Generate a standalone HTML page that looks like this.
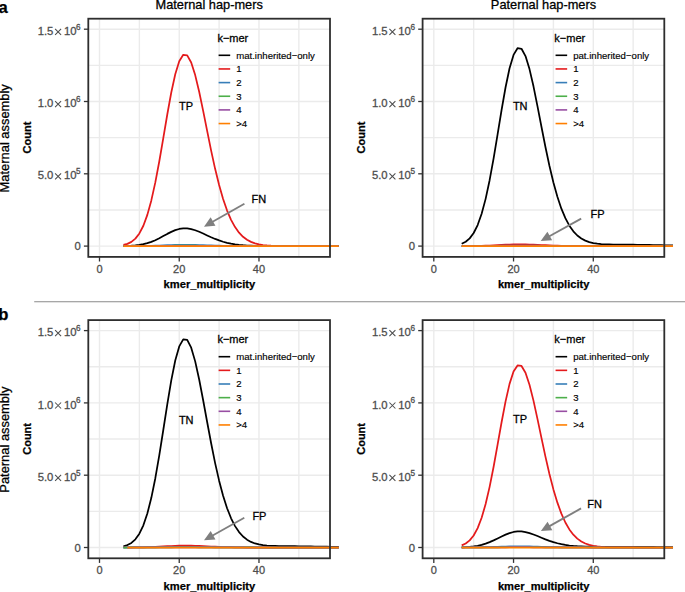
<!DOCTYPE html>
<html><head><meta charset="utf-8"><style>
html,body{margin:0;padding:0;background:#fff;}
body{width:685px;height:592px;overflow:hidden;font-family:"Liberation Sans",sans-serif;}
svg{display:block;}
</style></head><body>
<svg width="685" height="592" viewBox="0 0 685 592" font-family="'Liberation Sans', sans-serif">
<rect width="685" height="592" fill="#FFFFFF"/>
<line x1="99.50" y1="18.70" x2="99.50" y2="256.90" stroke="#EBEBEB" stroke-width="1.4"/>
<line x1="139.37" y1="18.70" x2="139.37" y2="256.90" stroke="#EBEBEB" stroke-width="1.4"/>
<line x1="179.24" y1="18.70" x2="179.24" y2="256.90" stroke="#EBEBEB" stroke-width="1.4"/>
<line x1="219.11" y1="18.70" x2="219.11" y2="256.90" stroke="#EBEBEB" stroke-width="1.4"/>
<line x1="258.98" y1="18.70" x2="258.98" y2="256.90" stroke="#EBEBEB" stroke-width="1.4"/>
<line x1="298.85" y1="18.70" x2="298.85" y2="256.90" stroke="#EBEBEB" stroke-width="1.4"/>
<line x1="88.30" y1="246.10" x2="330.00" y2="246.10" stroke="#EBEBEB" stroke-width="1.4"/>
<line x1="88.30" y1="209.95" x2="330.00" y2="209.95" stroke="#EBEBEB" stroke-width="1.4"/>
<line x1="88.30" y1="173.80" x2="330.00" y2="173.80" stroke="#EBEBEB" stroke-width="1.4"/>
<line x1="88.30" y1="137.65" x2="330.00" y2="137.65" stroke="#EBEBEB" stroke-width="1.4"/>
<line x1="88.30" y1="101.50" x2="330.00" y2="101.50" stroke="#EBEBEB" stroke-width="1.4"/>
<line x1="88.30" y1="65.35" x2="330.00" y2="65.35" stroke="#EBEBEB" stroke-width="1.4"/>
<line x1="88.30" y1="29.20" x2="330.00" y2="29.20" stroke="#EBEBEB" stroke-width="1.4"/>
<polyline points="123.42,245.99 127.41,245.89 131.40,245.71 135.38,245.41 139.37,244.93 143.36,244.21 147.34,243.20 151.33,241.87 155.32,240.20 159.31,238.23 163.29,236.09 167.28,233.90 171.27,231.87 175.25,230.17 179.24,228.97 183.23,228.37 187.21,228.42 191.20,229.08 195.19,230.25 199.18,231.80 203.16,233.57 207.15,235.43 211.14,237.25 215.12,238.94 219.11,240.44 223.10,241.73 227.08,242.80 231.07,243.66 235.06,244.34 239.05,244.85 243.03,245.24 247.02,245.51 251.01,245.71 254.99,245.85 258.98,245.94 262.97,246.00 266.95,246.04 270.94,246.06 274.93,246.08 278.91,246.09 282.90,246.09 286.89,246.10 290.88,246.10 294.86,246.10 298.85,246.10 302.84,246.10 306.82,246.10 310.81,246.10 314.80,246.10 318.78,246.10 322.77,246.10 326.76,246.10 330.75,246.10 334.73,246.10 338.72,246.10" fill="none" stroke="#000000" stroke-width="1.75" stroke-linejoin="round" stroke-linecap="butt"/>
<polyline points="123.42,244.95 127.41,243.84 131.40,241.89 135.38,238.62 139.37,233.45 143.36,225.73 147.34,214.86 151.33,200.43 155.32,182.40 159.31,161.24 163.29,138.07 167.28,114.50 171.27,92.53 175.25,74.19 179.24,61.24 183.23,54.83 187.21,55.37 191.20,62.47 195.19,75.09 199.18,91.78 203.16,110.92 207.15,130.95 211.14,150.58 215.12,168.82 219.11,185.06 223.10,198.98 227.08,210.53 231.07,219.82 235.06,227.10 239.05,232.65 243.03,236.77 247.02,239.76 251.01,241.88 254.99,243.35 258.98,244.34 262.97,245.00 266.95,245.43 270.94,245.70 274.93,245.86 278.91,245.96 282.90,246.02 286.89,246.06 290.88,246.08 294.86,246.09 298.85,246.09 302.84,246.10 306.82,246.10 310.81,246.10 314.80,246.10 318.78,246.10 322.77,246.10 326.76,246.10 330.75,246.10 334.73,246.10 338.72,246.10" fill="none" stroke="#E41A1C" stroke-width="1.75" stroke-linejoin="round" stroke-linecap="butt"/>
<polyline points="123.42,246.09 127.41,246.08 131.40,246.07 135.38,246.05 139.37,246.01 143.36,245.96 147.34,245.89 151.33,245.79 155.32,245.67 159.31,245.52 163.29,245.37 167.28,245.21 171.27,245.06 175.25,244.93 179.24,244.85 183.23,244.80 187.21,244.81 191.20,244.85 195.19,244.94 199.18,245.05 203.16,245.18 207.15,245.32 211.14,245.45 215.12,245.58 219.11,245.69 223.10,245.78 227.08,245.86 231.07,245.92 235.06,245.97 239.05,246.01 243.03,246.04 247.02,246.06 251.01,246.07 254.99,246.08 258.98,246.09 262.97,246.09 266.95,246.10 270.94,246.10 274.93,246.10 278.91,246.10 282.90,246.10 286.89,246.10 290.88,246.10 294.86,246.10 298.85,246.10 302.84,246.10 306.82,246.10 310.81,246.10 314.80,246.10 318.78,246.10 322.77,246.10 326.76,246.10 330.75,246.10 334.73,246.10 338.72,246.10" fill="none" stroke="#377EB8" stroke-width="1.75" stroke-linejoin="round" stroke-linecap="butt"/>
<polyline points="123.42,246.10 127.41,246.09 131.40,246.09 135.38,246.08 139.37,246.07 143.36,246.05 147.34,246.03 151.33,246.00 155.32,245.96 159.31,245.91 163.29,245.86 167.28,245.80 171.27,245.75 175.25,245.71 179.24,245.68 183.23,245.67 187.21,245.67 191.20,245.68 195.19,245.71 199.18,245.75 203.16,245.79 207.15,245.84 211.14,245.88 215.12,245.93 219.11,245.96 223.10,245.99 227.08,246.02 231.07,246.04 235.06,246.06 239.05,246.07 243.03,246.08 247.02,246.09 251.01,246.09 254.99,246.09 258.98,246.10 262.97,246.10 266.95,246.10 270.94,246.10 274.93,246.10 278.91,246.10 282.90,246.10 286.89,246.10 290.88,246.10 294.86,246.10 298.85,246.10 302.84,246.10 306.82,246.10 310.81,246.10 314.80,246.10 318.78,246.10 322.77,246.10 326.76,246.10 330.75,246.10 334.73,246.10 338.72,246.10" fill="none" stroke="#4DAF4A" stroke-width="1.75" stroke-linejoin="round" stroke-linecap="butt"/>
<polyline points="123.42,246.10 127.41,246.10 131.40,246.09 135.38,246.09 139.37,246.08 143.36,246.07 147.34,246.05 151.33,246.03 155.32,246.00 159.31,245.97 163.29,245.94 167.28,245.90 171.27,245.87 175.25,245.84 179.24,245.82 183.23,245.81 187.21,245.81 191.20,245.82 195.19,245.84 199.18,245.87 203.16,245.90 207.15,245.93 211.14,245.96 215.12,245.98 219.11,246.01 223.10,246.03 227.08,246.05 231.07,246.06 235.06,246.07 239.05,246.08 243.03,246.09 247.02,246.09 251.01,246.09 254.99,246.10 258.98,246.10 262.97,246.10 266.95,246.10 270.94,246.10 274.93,246.10 278.91,246.10 282.90,246.10 286.89,246.10 290.88,246.10 294.86,246.10 298.85,246.10 302.84,246.10 306.82,246.10 310.81,246.10 314.80,246.10 318.78,246.10 322.77,246.10 326.76,246.10 330.75,246.10 334.73,246.10 338.72,246.10" fill="none" stroke="#984EA3" stroke-width="1.75" stroke-linejoin="round" stroke-linecap="butt"/>
<polyline points="123.42,246.10 127.41,246.10 131.40,246.10 135.38,246.10 139.37,246.10 143.36,246.10 147.34,246.10 151.33,246.10 155.32,246.10 159.31,246.10 163.29,246.10 167.28,246.10 171.27,246.10 175.25,246.10 179.24,246.10 183.23,246.10 187.21,246.10 191.20,246.10 195.19,246.10 199.18,246.10 203.16,246.10 207.15,246.10 211.14,246.10 215.12,246.10 219.11,246.10 223.10,246.10 227.08,246.10 231.07,246.10 235.06,246.10 239.05,246.10 243.03,246.10 247.02,246.10 251.01,246.10 254.99,246.10 258.98,246.10 262.97,246.10 266.95,246.10 270.94,246.10 274.93,246.10 278.91,246.10 282.90,246.10 286.89,246.10 290.88,246.10 294.86,246.10 298.85,246.10 302.84,246.10 306.82,246.10 310.81,246.10 314.80,246.10 318.78,246.10 322.77,246.10 326.76,246.10 330.75,246.10 334.73,246.10 338.72,246.10" fill="none" stroke="#FF7F00" stroke-width="1.75" stroke-linejoin="round" stroke-linecap="butt"/>
<rect x="88.30" y="18.70" width="241.70" height="238.20" fill="none" stroke="#2E2E2E" stroke-width="1.8"/>
<text x="217.40" y="41.50" font-size="11" fill="#000" stroke="#000" stroke-width="0.28">k&#8722;mer</text>
<line x1="218.60" y1="55.30" x2="230.20" y2="55.30" stroke="#000000" stroke-width="1.6"/>
<text x="236.20" y="58.70" font-size="9.6" fill="#000" stroke="#000" stroke-width="0.15">mat.inherited&#8722;only</text>
<line x1="218.60" y1="68.95" x2="230.20" y2="68.95" stroke="#E41A1C" stroke-width="1.6"/>
<text x="236.20" y="72.35" font-size="9.6" fill="#000" stroke="#000" stroke-width="0.15">1</text>
<line x1="218.60" y1="82.60" x2="230.20" y2="82.60" stroke="#377EB8" stroke-width="1.6"/>
<text x="236.20" y="86.00" font-size="9.6" fill="#000" stroke="#000" stroke-width="0.15">2</text>
<line x1="218.60" y1="96.25" x2="230.20" y2="96.25" stroke="#4DAF4A" stroke-width="1.6"/>
<text x="236.20" y="99.65" font-size="9.6" fill="#000" stroke="#000" stroke-width="0.15">3</text>
<line x1="218.60" y1="109.90" x2="230.20" y2="109.90" stroke="#984EA3" stroke-width="1.6"/>
<text x="236.20" y="113.30" font-size="9.6" fill="#000" stroke="#000" stroke-width="0.15">4</text>
<line x1="218.60" y1="123.55" x2="230.20" y2="123.55" stroke="#FF7F00" stroke-width="1.6"/>
<text x="236.20" y="126.95" font-size="9.6" fill="#000" stroke="#000" stroke-width="0.15">&gt;4</text>
<text x="179.05" y="109.80" font-size="11" fill="#000" stroke="#000" stroke-width="0.28">TP</text>
<text x="251.60" y="203.30" font-size="11" fill="#000" stroke="#000" stroke-width="0.28">FN</text>
<line x1="244.40" y1="203.80" x2="212.18" y2="222.06" stroke="#7F7F7F" stroke-width="1.85"/>
<polygon points="204.00,226.70 210.63,217.31 215.46,225.83" fill="#7F7F7F"/>
<line x1="83.90" y1="246.10" x2="88.30" y2="246.10" stroke="#333333" stroke-width="1.3"/>
<line x1="83.90" y1="173.80" x2="88.30" y2="173.80" stroke="#333333" stroke-width="1.3"/>
<line x1="83.90" y1="101.50" x2="88.30" y2="101.50" stroke="#333333" stroke-width="1.3"/>
<line x1="83.90" y1="29.20" x2="88.30" y2="29.20" stroke="#333333" stroke-width="1.3"/>
<line x1="99.50" y1="256.90" x2="99.50" y2="261.50" stroke="#333333" stroke-width="1.3"/>
<line x1="179.24" y1="256.90" x2="179.24" y2="261.50" stroke="#333333" stroke-width="1.3"/>
<line x1="258.98" y1="256.90" x2="258.98" y2="261.50" stroke="#333333" stroke-width="1.3"/>
<text x="99.50" y="273.00" font-size="11" fill="#4D4D4D" text-anchor="middle" stroke="#4D4D4D" stroke-width="0.28">0</text>
<text x="179.24" y="273.00" font-size="11" fill="#4D4D4D" text-anchor="middle" stroke="#4D4D4D" stroke-width="0.28">20</text>
<text x="258.98" y="273.00" font-size="11" fill="#4D4D4D" text-anchor="middle" stroke="#4D4D4D" stroke-width="0.28">40</text>
<text x="80.70" y="250.10" font-size="11.3" fill="#4D4D4D" text-anchor="end" stroke="#4D4D4D" stroke-width="0.28">0</text>
<text x="80.65" y="174.20" font-size="8.2" fill="#4D4D4D" text-anchor="end" stroke="#4D4D4D" stroke-width="0.28">5</text>
<text x="76.55" y="179.40" font-size="11.3" fill="#4D4D4D" text-anchor="end" stroke="#4D4D4D" stroke-width="0.28">10</text>
<path d="M55.10,173.40L61.10,179.40M61.10,173.40L55.10,179.40" stroke="#4D4D4D" stroke-width="1.05"/>
<text x="53.35" y="179.40" font-size="11.3" fill="#4D4D4D" text-anchor="end" stroke="#4D4D4D" stroke-width="0.28">5.0</text>
<text x="80.65" y="101.90" font-size="8.2" fill="#4D4D4D" text-anchor="end" stroke="#4D4D4D" stroke-width="0.28">6</text>
<text x="76.55" y="107.10" font-size="11.3" fill="#4D4D4D" text-anchor="end" stroke="#4D4D4D" stroke-width="0.28">10</text>
<path d="M55.10,101.10L61.10,107.10M61.10,101.10L55.10,107.10" stroke="#4D4D4D" stroke-width="1.05"/>
<text x="53.35" y="107.10" font-size="11.3" fill="#4D4D4D" text-anchor="end" stroke="#4D4D4D" stroke-width="0.28">1.0</text>
<text x="80.65" y="29.60" font-size="8.2" fill="#4D4D4D" text-anchor="end" stroke="#4D4D4D" stroke-width="0.28">6</text>
<text x="76.55" y="34.80" font-size="11.3" fill="#4D4D4D" text-anchor="end" stroke="#4D4D4D" stroke-width="0.28">10</text>
<path d="M55.10,28.80L61.10,34.80M61.10,28.80L55.10,34.80" stroke="#4D4D4D" stroke-width="1.05"/>
<text x="53.35" y="34.80" font-size="11.3" fill="#4D4D4D" text-anchor="end" stroke="#4D4D4D" stroke-width="0.28">1.5</text>
<text x="209.40" y="288.30" font-size="11.15" font-weight="bold" text-anchor="middle" fill="#000" stroke="#000" stroke-width="0.25">kmer_multiplicity</text>
<text transform="translate(30.60,137.50) rotate(-90)" font-size="11" font-weight="bold" text-anchor="middle" fill="#000" stroke="#000" stroke-width="0.25">Count</text>
<text x="209.20" y="8.90" font-size="12.8" text-anchor="middle" fill="#000" stroke="#000" stroke-width="0.28">Maternal hap-mers</text>
<line x1="433.80" y1="18.70" x2="433.80" y2="256.90" stroke="#EBEBEB" stroke-width="1.4"/>
<line x1="473.67" y1="18.70" x2="473.67" y2="256.90" stroke="#EBEBEB" stroke-width="1.4"/>
<line x1="513.54" y1="18.70" x2="513.54" y2="256.90" stroke="#EBEBEB" stroke-width="1.4"/>
<line x1="553.41" y1="18.70" x2="553.41" y2="256.90" stroke="#EBEBEB" stroke-width="1.4"/>
<line x1="593.28" y1="18.70" x2="593.28" y2="256.90" stroke="#EBEBEB" stroke-width="1.4"/>
<line x1="633.15" y1="18.70" x2="633.15" y2="256.90" stroke="#EBEBEB" stroke-width="1.4"/>
<line x1="422.60" y1="246.10" x2="664.30" y2="246.10" stroke="#EBEBEB" stroke-width="1.4"/>
<line x1="422.60" y1="209.95" x2="664.30" y2="209.95" stroke="#EBEBEB" stroke-width="1.4"/>
<line x1="422.60" y1="173.80" x2="664.30" y2="173.80" stroke="#EBEBEB" stroke-width="1.4"/>
<line x1="422.60" y1="137.65" x2="664.30" y2="137.65" stroke="#EBEBEB" stroke-width="1.4"/>
<line x1="422.60" y1="101.50" x2="664.30" y2="101.50" stroke="#EBEBEB" stroke-width="1.4"/>
<line x1="422.60" y1="65.35" x2="664.30" y2="65.35" stroke="#EBEBEB" stroke-width="1.4"/>
<line x1="422.60" y1="29.20" x2="664.30" y2="29.20" stroke="#EBEBEB" stroke-width="1.4"/>
<polyline points="461.71,243.76 465.70,241.74 469.68,238.36 473.67,233.01 477.66,225.03 481.64,213.79 485.63,198.87 489.62,180.21 493.61,158.34 497.59,134.37 501.58,109.99 505.57,87.26 509.55,68.29 513.54,54.88 517.53,48.24 521.51,48.77 525.50,56.08 529.49,69.10 533.48,86.31 537.46,106.06 541.45,126.72 545.44,146.96 549.42,165.76 553.41,182.49 557.40,196.81 561.38,208.68 565.37,218.21 569.36,225.66 573.35,231.31 577.33,235.50 581.32,238.51 585.31,240.63 589.29,242.08 593.28,243.04 597.27,243.66 601.25,244.05 605.24,244.29 609.23,244.43 613.22,244.52 617.20,244.57 621.19,244.62 625.18,244.65 629.16,244.69 633.15,244.74 637.14,244.79 641.12,244.85 645.11,244.92 649.10,244.99 653.09,245.07 657.07,245.14 661.06,245.22 665.05,245.30 669.03,245.38 673.02,245.46" fill="none" stroke="#000000" stroke-width="1.75" stroke-linejoin="round" stroke-linecap="butt"/>
<polyline points="461.71,246.08 465.70,246.06 469.68,246.03 473.67,245.99 477.66,245.92 481.64,245.82 485.63,245.69 489.62,245.52 493.61,245.33 497.59,245.12 501.58,244.91 505.57,244.71 509.55,244.55 513.54,244.43 517.53,244.37 521.51,244.38 525.50,244.44 529.49,244.55 533.48,244.70 537.46,244.88 541.45,245.06 545.44,245.24 549.42,245.40 553.41,245.55 557.40,245.67 561.38,245.78 565.37,245.86 569.36,245.93 573.35,245.98 577.33,246.02 581.32,246.04 585.31,246.06 589.29,246.08 593.28,246.08 597.27,246.09 601.25,246.09 605.24,246.10 609.23,246.10 613.22,246.10 617.20,246.10 621.19,246.10 625.18,246.10 629.16,246.10 633.15,246.10 637.14,246.10 641.12,246.10 645.11,246.10 649.10,246.10 653.09,246.10 657.07,246.10 661.06,246.10 665.05,246.10 669.03,246.10 673.02,246.10" fill="none" stroke="#E41A1C" stroke-width="1.75" stroke-linejoin="round" stroke-linecap="butt"/>
<polyline points="461.71,246.09 465.70,246.09 469.68,246.08 473.67,246.06 477.66,246.04 481.64,246.01 485.63,245.96 489.62,245.91 493.61,245.84 497.59,245.77 501.58,245.70 505.57,245.64 509.55,245.58 513.54,245.54 517.53,245.52 521.51,245.53 525.50,245.55 529.49,245.58 533.48,245.63 537.46,245.69 541.45,245.75 545.44,245.81 549.42,245.87 553.41,245.92 557.40,245.96 561.38,245.99 565.37,246.02 569.36,246.04 573.35,246.06 577.33,246.07 581.32,246.08 585.31,246.09 589.29,246.09 593.28,246.09 597.27,246.10 601.25,246.10 605.24,246.10 609.23,246.10 613.22,246.10 617.20,246.10 621.19,246.10 625.18,246.10 629.16,246.10 633.15,246.10 637.14,246.10 641.12,246.10 645.11,246.10 649.10,246.10 653.09,246.10 657.07,246.10 661.06,246.10 665.05,246.10 669.03,246.10 673.02,246.10" fill="none" stroke="#377EB8" stroke-width="1.75" stroke-linejoin="round" stroke-linecap="butt"/>
<polyline points="461.71,246.10 465.70,246.09 469.68,246.09 473.67,246.08 477.66,246.07 481.64,246.05 485.63,246.03 489.62,246.00 493.61,245.97 497.59,245.94 501.58,245.90 505.57,245.87 509.55,245.84 513.54,245.82 517.53,245.81 521.51,245.81 525.50,245.82 529.49,245.84 533.48,245.87 537.46,245.90 541.45,245.93 545.44,245.96 549.42,245.98 553.41,246.01 557.40,246.03 561.38,246.05 565.37,246.06 569.36,246.07 573.35,246.08 577.33,246.09 581.32,246.09 585.31,246.09 589.29,246.10 593.28,246.10 597.27,246.10 601.25,246.10 605.24,246.10 609.23,246.10 613.22,246.10 617.20,246.10 621.19,246.10 625.18,246.10 629.16,246.10 633.15,246.10 637.14,246.10 641.12,246.10 645.11,246.10 649.10,246.10 653.09,246.10 657.07,246.10 661.06,246.10 665.05,246.10 669.03,246.10 673.02,246.10" fill="none" stroke="#4DAF4A" stroke-width="1.75" stroke-linejoin="round" stroke-linecap="butt"/>
<polyline points="461.71,246.10 465.70,246.10 469.68,246.09 473.67,246.09 477.66,246.08 481.64,246.08 485.63,246.07 489.62,246.05 493.61,246.04 497.59,246.02 501.58,246.00 505.57,245.98 509.55,245.97 513.54,245.96 517.53,245.96 521.51,245.96 525.50,245.96 529.49,245.97 533.48,245.98 537.46,246.00 541.45,246.01 545.44,246.03 549.42,246.04 553.41,246.05 557.40,246.06 561.38,246.07 565.37,246.08 569.36,246.09 573.35,246.09 577.33,246.09 581.32,246.10 585.31,246.10 589.29,246.10 593.28,246.10 597.27,246.10 601.25,246.10 605.24,246.10 609.23,246.10 613.22,246.10 617.20,246.10 621.19,246.10 625.18,246.10 629.16,246.10 633.15,246.10 637.14,246.10 641.12,246.10 645.11,246.10 649.10,246.10 653.09,246.10 657.07,246.10 661.06,246.10 665.05,246.10 669.03,246.10 673.02,246.10" fill="none" stroke="#984EA3" stroke-width="1.75" stroke-linejoin="round" stroke-linecap="butt"/>
<polyline points="461.71,246.10 465.70,246.10 469.68,246.10 473.67,246.10 477.66,246.10 481.64,246.10 485.63,246.10 489.62,246.10 493.61,246.10 497.59,246.10 501.58,246.10 505.57,246.10 509.55,246.10 513.54,246.10 517.53,246.10 521.51,246.10 525.50,246.10 529.49,246.10 533.48,246.10 537.46,246.10 541.45,246.10 545.44,246.10 549.42,246.10 553.41,246.10 557.40,246.10 561.38,246.10 565.37,246.10 569.36,246.10 573.35,246.10 577.33,246.10 581.32,246.10 585.31,246.10 589.29,246.10 593.28,246.10 597.27,246.10 601.25,246.10 605.24,246.10 609.23,246.10 613.22,246.10 617.20,246.10 621.19,246.10 625.18,246.10 629.16,246.10 633.15,246.10 637.14,246.10 641.12,246.10 645.11,246.10 649.10,246.10 653.09,246.10 657.07,246.10 661.06,246.10 665.05,246.10 669.03,246.10 673.02,246.10" fill="none" stroke="#FF7F00" stroke-width="1.75" stroke-linejoin="round" stroke-linecap="butt"/>
<rect x="422.60" y="18.70" width="241.70" height="238.20" fill="none" stroke="#2E2E2E" stroke-width="1.8"/>
<text x="554.36" y="41.50" font-size="11" fill="#000" stroke="#000" stroke-width="0.28">k&#8722;mer</text>
<line x1="555.56" y1="55.30" x2="567.16" y2="55.30" stroke="#000000" stroke-width="1.6"/>
<text x="573.16" y="58.70" font-size="9.6" fill="#000" stroke="#000" stroke-width="0.15">pat.inherited&#8722;only</text>
<line x1="555.56" y1="68.95" x2="567.16" y2="68.95" stroke="#E41A1C" stroke-width="1.6"/>
<text x="573.16" y="72.35" font-size="9.6" fill="#000" stroke="#000" stroke-width="0.15">1</text>
<line x1="555.56" y1="82.60" x2="567.16" y2="82.60" stroke="#377EB8" stroke-width="1.6"/>
<text x="573.16" y="86.00" font-size="9.6" fill="#000" stroke="#000" stroke-width="0.15">2</text>
<line x1="555.56" y1="96.25" x2="567.16" y2="96.25" stroke="#4DAF4A" stroke-width="1.6"/>
<text x="573.16" y="99.65" font-size="9.6" fill="#000" stroke="#000" stroke-width="0.15">3</text>
<line x1="555.56" y1="109.90" x2="567.16" y2="109.90" stroke="#984EA3" stroke-width="1.6"/>
<text x="573.16" y="113.30" font-size="9.6" fill="#000" stroke="#000" stroke-width="0.15">4</text>
<line x1="555.56" y1="123.55" x2="567.16" y2="123.55" stroke="#FF7F00" stroke-width="1.6"/>
<text x="573.16" y="126.95" font-size="9.6" fill="#000" stroke="#000" stroke-width="0.15">&gt;4</text>
<text x="512.90" y="109.80" font-size="11" fill="#000" stroke="#000" stroke-width="0.28">TN</text>
<text x="590.60" y="217.60" font-size="11" fill="#000" stroke="#000" stroke-width="0.28">FP</text>
<line x1="581.20" y1="218.60" x2="548.92" y2="236.53" stroke="#7F7F7F" stroke-width="1.85"/>
<polygon points="540.70,241.10 547.41,231.77 552.17,240.33" fill="#7F7F7F"/>
<line x1="418.20" y1="246.10" x2="422.60" y2="246.10" stroke="#333333" stroke-width="1.3"/>
<line x1="418.20" y1="173.80" x2="422.60" y2="173.80" stroke="#333333" stroke-width="1.3"/>
<line x1="418.20" y1="101.50" x2="422.60" y2="101.50" stroke="#333333" stroke-width="1.3"/>
<line x1="418.20" y1="29.20" x2="422.60" y2="29.20" stroke="#333333" stroke-width="1.3"/>
<line x1="433.80" y1="256.90" x2="433.80" y2="261.50" stroke="#333333" stroke-width="1.3"/>
<line x1="513.54" y1="256.90" x2="513.54" y2="261.50" stroke="#333333" stroke-width="1.3"/>
<line x1="593.28" y1="256.90" x2="593.28" y2="261.50" stroke="#333333" stroke-width="1.3"/>
<text x="433.80" y="273.00" font-size="11" fill="#4D4D4D" text-anchor="middle" stroke="#4D4D4D" stroke-width="0.28">0</text>
<text x="513.54" y="273.00" font-size="11" fill="#4D4D4D" text-anchor="middle" stroke="#4D4D4D" stroke-width="0.28">20</text>
<text x="593.28" y="273.00" font-size="11" fill="#4D4D4D" text-anchor="middle" stroke="#4D4D4D" stroke-width="0.28">40</text>
<text x="415.00" y="250.10" font-size="11.3" fill="#4D4D4D" text-anchor="end" stroke="#4D4D4D" stroke-width="0.28">0</text>
<text x="414.95" y="174.20" font-size="8.2" fill="#4D4D4D" text-anchor="end" stroke="#4D4D4D" stroke-width="0.28">5</text>
<text x="410.85" y="179.40" font-size="11.3" fill="#4D4D4D" text-anchor="end" stroke="#4D4D4D" stroke-width="0.28">10</text>
<path d="M389.40,173.40L395.40,179.40M395.40,173.40L389.40,179.40" stroke="#4D4D4D" stroke-width="1.05"/>
<text x="387.65" y="179.40" font-size="11.3" fill="#4D4D4D" text-anchor="end" stroke="#4D4D4D" stroke-width="0.28">5.0</text>
<text x="414.95" y="101.90" font-size="8.2" fill="#4D4D4D" text-anchor="end" stroke="#4D4D4D" stroke-width="0.28">6</text>
<text x="410.85" y="107.10" font-size="11.3" fill="#4D4D4D" text-anchor="end" stroke="#4D4D4D" stroke-width="0.28">10</text>
<path d="M389.40,101.10L395.40,107.10M395.40,101.10L389.40,107.10" stroke="#4D4D4D" stroke-width="1.05"/>
<text x="387.65" y="107.10" font-size="11.3" fill="#4D4D4D" text-anchor="end" stroke="#4D4D4D" stroke-width="0.28">1.0</text>
<text x="414.95" y="29.60" font-size="8.2" fill="#4D4D4D" text-anchor="end" stroke="#4D4D4D" stroke-width="0.28">6</text>
<text x="410.85" y="34.80" font-size="11.3" fill="#4D4D4D" text-anchor="end" stroke="#4D4D4D" stroke-width="0.28">10</text>
<path d="M389.40,28.80L395.40,34.80M395.40,28.80L389.40,34.80" stroke="#4D4D4D" stroke-width="1.05"/>
<text x="387.65" y="34.80" font-size="11.3" fill="#4D4D4D" text-anchor="end" stroke="#4D4D4D" stroke-width="0.28">1.5</text>
<text x="543.70" y="288.30" font-size="11.15" font-weight="bold" text-anchor="middle" fill="#000" stroke="#000" stroke-width="0.25">kmer_multiplicity</text>
<text transform="translate(364.90,137.50) rotate(-90)" font-size="11" font-weight="bold" text-anchor="middle" fill="#000" stroke="#000" stroke-width="0.25">Count</text>
<text x="543.50" y="8.90" font-size="12.8" text-anchor="middle" fill="#000" stroke="#000" stroke-width="0.28">Paternal hap-mers</text>
<line x1="99.50" y1="320.10" x2="99.50" y2="558.30" stroke="#EBEBEB" stroke-width="1.4"/>
<line x1="139.37" y1="320.10" x2="139.37" y2="558.30" stroke="#EBEBEB" stroke-width="1.4"/>
<line x1="179.24" y1="320.10" x2="179.24" y2="558.30" stroke="#EBEBEB" stroke-width="1.4"/>
<line x1="219.11" y1="320.10" x2="219.11" y2="558.30" stroke="#EBEBEB" stroke-width="1.4"/>
<line x1="258.98" y1="320.10" x2="258.98" y2="558.30" stroke="#EBEBEB" stroke-width="1.4"/>
<line x1="298.85" y1="320.10" x2="298.85" y2="558.30" stroke="#EBEBEB" stroke-width="1.4"/>
<line x1="88.30" y1="547.50" x2="330.00" y2="547.50" stroke="#EBEBEB" stroke-width="1.4"/>
<line x1="88.30" y1="511.35" x2="330.00" y2="511.35" stroke="#EBEBEB" stroke-width="1.4"/>
<line x1="88.30" y1="475.20" x2="330.00" y2="475.20" stroke="#EBEBEB" stroke-width="1.4"/>
<line x1="88.30" y1="439.05" x2="330.00" y2="439.05" stroke="#EBEBEB" stroke-width="1.4"/>
<line x1="88.30" y1="402.90" x2="330.00" y2="402.90" stroke="#EBEBEB" stroke-width="1.4"/>
<line x1="88.30" y1="366.75" x2="330.00" y2="366.75" stroke="#EBEBEB" stroke-width="1.4"/>
<line x1="88.30" y1="330.60" x2="330.00" y2="330.60" stroke="#EBEBEB" stroke-width="1.4"/>
<polyline points="123.42,546.25 127.41,545.04 131.40,542.92 135.38,539.36 139.37,533.74 143.36,525.34 147.34,513.52 151.33,497.82 155.32,478.21 159.31,455.20 163.29,429.99 167.28,404.36 171.27,380.45 175.25,360.50 179.24,346.40 183.23,339.41 187.21,339.97 191.20,347.67 195.19,361.37 199.18,379.48 203.16,400.25 207.15,421.99 211.14,443.28 215.12,463.07 219.11,480.67 223.10,495.75 227.08,508.24 231.07,518.28 235.06,526.12 239.05,532.08 243.03,536.49 247.02,539.68 251.01,541.92 254.99,543.45 258.98,544.47 262.97,545.13 266.95,545.55 270.94,545.81 274.93,545.96 278.91,546.06 282.90,546.11 286.89,546.16 290.88,546.19 294.86,546.23 298.85,546.27 302.84,546.32 306.82,546.38 310.81,546.44 314.80,546.50 318.78,546.57 322.77,546.64 326.76,546.71 330.75,546.78 334.73,546.85 338.72,546.92" fill="none" stroke="#000000" stroke-width="1.75" stroke-linejoin="round" stroke-linecap="butt"/>
<polyline points="123.42,547.49 127.41,547.48 131.40,547.46 135.38,547.43 139.37,547.38 143.36,547.30 147.34,547.19 151.33,547.05 155.32,546.88 159.31,546.67 163.29,546.44 167.28,546.21 171.27,546.00 175.25,545.82 179.24,545.69 183.23,545.63 187.21,545.63 191.20,545.70 195.19,545.82 199.18,545.99 203.16,546.18 207.15,546.37 211.14,546.56 215.12,546.74 219.11,546.90 223.10,547.04 227.08,547.15 231.07,547.24 235.06,547.31 239.05,547.37 243.03,547.41 247.02,547.44 251.01,547.46 254.99,547.47 258.98,547.48 262.97,547.49 266.95,547.49 270.94,547.50 274.93,547.50 278.91,547.50 282.90,547.50 286.89,547.50 290.88,547.50 294.86,547.50 298.85,547.50 302.84,547.50 306.82,547.50 310.81,547.50 314.80,547.50 318.78,547.50 322.77,547.50 326.76,547.50 330.75,547.50 334.73,547.50 338.72,547.50" fill="none" stroke="#E41A1C" stroke-width="1.75" stroke-linejoin="round" stroke-linecap="butt"/>
<polyline points="123.42,547.50 127.41,547.49 131.40,547.49 135.38,547.48 139.37,547.46 143.36,547.44 147.34,547.41 151.33,547.36 155.32,547.31 159.31,547.24 163.29,547.17 167.28,547.10 171.27,547.04 175.25,546.98 179.24,546.94 183.23,546.92 187.21,546.93 191.20,546.95 195.19,546.98 199.18,547.03 203.16,547.09 207.15,547.15 211.14,547.21 215.12,547.27 219.11,547.32 223.10,547.36 227.08,547.39 231.07,547.42 235.06,547.44 239.05,547.46 243.03,547.47 247.02,547.48 251.01,547.49 254.99,547.49 258.98,547.49 262.97,547.50 266.95,547.50 270.94,547.50 274.93,547.50 278.91,547.50 282.90,547.50 286.89,547.50 290.88,547.50 294.86,547.50 298.85,547.50 302.84,547.50 306.82,547.50 310.81,547.50 314.80,547.50 318.78,547.50 322.77,547.50 326.76,547.50 330.75,547.50 334.73,547.50 338.72,547.50" fill="none" stroke="#377EB8" stroke-width="1.75" stroke-linejoin="round" stroke-linecap="butt"/>
<polyline points="123.42,547.50 127.41,547.50 131.40,547.49 135.38,547.49 139.37,547.48 143.36,547.47 147.34,547.45 151.33,547.43 155.32,547.40 159.31,547.37 163.29,547.34 167.28,547.30 171.27,547.27 175.25,547.24 179.24,547.22 183.23,547.21 187.21,547.21 191.20,547.22 195.19,547.24 199.18,547.27 203.16,547.30 207.15,547.33 211.14,547.36 215.12,547.38 219.11,547.41 223.10,547.43 227.08,547.45 231.07,547.46 235.06,547.47 239.05,547.48 243.03,547.49 247.02,547.49 251.01,547.49 254.99,547.50 258.98,547.50 262.97,547.50 266.95,547.50 270.94,547.50 274.93,547.50 278.91,547.50 282.90,547.50 286.89,547.50 290.88,547.50 294.86,547.50 298.85,547.50 302.84,547.50 306.82,547.50 310.81,547.50 314.80,547.50 318.78,547.50 322.77,547.50 326.76,547.50 330.75,547.50 334.73,547.50 338.72,547.50" fill="none" stroke="#4DAF4A" stroke-width="1.75" stroke-linejoin="round" stroke-linecap="butt"/>
<polyline points="127.41,547.50 131.40,547.50 135.38,547.49 139.37,547.49 143.36,547.48 147.34,547.48 151.33,547.47 155.32,547.45 159.31,547.44 163.29,547.42 167.28,547.40 171.27,547.38 175.25,547.37 179.24,547.36 183.23,547.36 187.21,547.36 191.20,547.36 195.19,547.37 199.18,547.38 203.16,547.40 207.15,547.41 211.14,547.43 215.12,547.44 219.11,547.45 223.10,547.46 227.08,547.47 231.07,547.48 235.06,547.49 239.05,547.49 243.03,547.49 247.02,547.50 251.01,547.50 254.99,547.50 258.98,547.50 262.97,547.50 266.95,547.50 270.94,547.50 274.93,547.50 278.91,547.50 282.90,547.50 286.89,547.50 290.88,547.50 294.86,547.50 298.85,547.50 302.84,547.50 306.82,547.50 310.81,547.50 314.80,547.50 318.78,547.50 322.77,547.50 326.76,547.50 330.75,547.50 334.73,547.50 338.72,547.50" fill="none" stroke="#984EA3" stroke-width="1.75" stroke-linejoin="round" stroke-linecap="butt"/>
<polyline points="127.41,547.50 131.40,547.50 135.38,547.50 139.37,547.50 143.36,547.50 147.34,547.50 151.33,547.50 155.32,547.50 159.31,547.50 163.29,547.50 167.28,547.50 171.27,547.50 175.25,547.50 179.24,547.50 183.23,547.50 187.21,547.50 191.20,547.50 195.19,547.50 199.18,547.50 203.16,547.50 207.15,547.50 211.14,547.50 215.12,547.50 219.11,547.50 223.10,547.50 227.08,547.50 231.07,547.50 235.06,547.50 239.05,547.50 243.03,547.50 247.02,547.50 251.01,547.50 254.99,547.50 258.98,547.50 262.97,547.50 266.95,547.50 270.94,547.50 274.93,547.50 278.91,547.50 282.90,547.50 286.89,547.50 290.88,547.50 294.86,547.50 298.85,547.50 302.84,547.50 306.82,547.50 310.81,547.50 314.80,547.50 318.78,547.50 322.77,547.50 326.76,547.50 330.75,547.50 334.73,547.50 338.72,547.50" fill="none" stroke="#FF7F00" stroke-width="1.75" stroke-linejoin="round" stroke-linecap="butt"/>
<rect x="88.30" y="320.10" width="241.70" height="238.20" fill="none" stroke="#2E2E2E" stroke-width="1.8"/>
<text x="217.40" y="342.90" font-size="11" fill="#000" stroke="#000" stroke-width="0.28">k&#8722;mer</text>
<line x1="218.60" y1="356.70" x2="230.20" y2="356.70" stroke="#000000" stroke-width="1.6"/>
<text x="236.20" y="360.10" font-size="9.6" fill="#000" stroke="#000" stroke-width="0.15">mat.inherited&#8722;only</text>
<line x1="218.60" y1="370.35" x2="230.20" y2="370.35" stroke="#E41A1C" stroke-width="1.6"/>
<text x="236.20" y="373.75" font-size="9.6" fill="#000" stroke="#000" stroke-width="0.15">1</text>
<line x1="218.60" y1="384.00" x2="230.20" y2="384.00" stroke="#377EB8" stroke-width="1.6"/>
<text x="236.20" y="387.40" font-size="9.6" fill="#000" stroke="#000" stroke-width="0.15">2</text>
<line x1="218.60" y1="397.65" x2="230.20" y2="397.65" stroke="#4DAF4A" stroke-width="1.6"/>
<text x="236.20" y="401.05" font-size="9.6" fill="#000" stroke="#000" stroke-width="0.15">3</text>
<line x1="218.60" y1="411.30" x2="230.20" y2="411.30" stroke="#984EA3" stroke-width="1.6"/>
<text x="236.20" y="414.70" font-size="9.6" fill="#000" stroke="#000" stroke-width="0.15">4</text>
<line x1="218.60" y1="424.95" x2="230.20" y2="424.95" stroke="#FF7F00" stroke-width="1.6"/>
<text x="236.20" y="428.35" font-size="9.6" fill="#000" stroke="#000" stroke-width="0.15">&gt;4</text>
<text x="178.90" y="423.80" font-size="11" fill="#000" stroke="#000" stroke-width="0.28">TN</text>
<text x="252.40" y="519.70" font-size="11" fill="#000" stroke="#000" stroke-width="0.28">FP</text>
<line x1="244.30" y1="517.80" x2="212.21" y2="535.72" stroke="#7F7F7F" stroke-width="1.85"/>
<polygon points="204.00,540.30 210.69,530.95 215.47,539.51" fill="#7F7F7F"/>
<line x1="83.90" y1="547.50" x2="88.30" y2="547.50" stroke="#333333" stroke-width="1.3"/>
<line x1="83.90" y1="475.20" x2="88.30" y2="475.20" stroke="#333333" stroke-width="1.3"/>
<line x1="83.90" y1="402.90" x2="88.30" y2="402.90" stroke="#333333" stroke-width="1.3"/>
<line x1="83.90" y1="330.60" x2="88.30" y2="330.60" stroke="#333333" stroke-width="1.3"/>
<line x1="99.50" y1="558.30" x2="99.50" y2="562.90" stroke="#333333" stroke-width="1.3"/>
<line x1="179.24" y1="558.30" x2="179.24" y2="562.90" stroke="#333333" stroke-width="1.3"/>
<line x1="258.98" y1="558.30" x2="258.98" y2="562.90" stroke="#333333" stroke-width="1.3"/>
<text x="99.50" y="574.40" font-size="11" fill="#4D4D4D" text-anchor="middle" stroke="#4D4D4D" stroke-width="0.28">0</text>
<text x="179.24" y="574.40" font-size="11" fill="#4D4D4D" text-anchor="middle" stroke="#4D4D4D" stroke-width="0.28">20</text>
<text x="258.98" y="574.40" font-size="11" fill="#4D4D4D" text-anchor="middle" stroke="#4D4D4D" stroke-width="0.28">40</text>
<text x="80.70" y="551.50" font-size="11.3" fill="#4D4D4D" text-anchor="end" stroke="#4D4D4D" stroke-width="0.28">0</text>
<text x="80.65" y="475.60" font-size="8.2" fill="#4D4D4D" text-anchor="end" stroke="#4D4D4D" stroke-width="0.28">5</text>
<text x="76.55" y="480.80" font-size="11.3" fill="#4D4D4D" text-anchor="end" stroke="#4D4D4D" stroke-width="0.28">10</text>
<path d="M55.10,474.80L61.10,480.80M61.10,474.80L55.10,480.80" stroke="#4D4D4D" stroke-width="1.05"/>
<text x="53.35" y="480.80" font-size="11.3" fill="#4D4D4D" text-anchor="end" stroke="#4D4D4D" stroke-width="0.28">5.0</text>
<text x="80.65" y="403.30" font-size="8.2" fill="#4D4D4D" text-anchor="end" stroke="#4D4D4D" stroke-width="0.28">6</text>
<text x="76.55" y="408.50" font-size="11.3" fill="#4D4D4D" text-anchor="end" stroke="#4D4D4D" stroke-width="0.28">10</text>
<path d="M55.10,402.50L61.10,408.50M61.10,402.50L55.10,408.50" stroke="#4D4D4D" stroke-width="1.05"/>
<text x="53.35" y="408.50" font-size="11.3" fill="#4D4D4D" text-anchor="end" stroke="#4D4D4D" stroke-width="0.28">1.0</text>
<text x="80.65" y="331.00" font-size="8.2" fill="#4D4D4D" text-anchor="end" stroke="#4D4D4D" stroke-width="0.28">6</text>
<text x="76.55" y="336.20" font-size="11.3" fill="#4D4D4D" text-anchor="end" stroke="#4D4D4D" stroke-width="0.28">10</text>
<path d="M55.10,330.20L61.10,336.20M61.10,330.20L55.10,336.20" stroke="#4D4D4D" stroke-width="1.05"/>
<text x="53.35" y="336.20" font-size="11.3" fill="#4D4D4D" text-anchor="end" stroke="#4D4D4D" stroke-width="0.28">1.5</text>
<text x="209.40" y="589.70" font-size="11.15" font-weight="bold" text-anchor="middle" fill="#000" stroke="#000" stroke-width="0.25">kmer_multiplicity</text>
<text transform="translate(30.60,438.90) rotate(-90)" font-size="11" font-weight="bold" text-anchor="middle" fill="#000" stroke="#000" stroke-width="0.25">Count</text>
<line x1="433.80" y1="320.10" x2="433.80" y2="558.30" stroke="#EBEBEB" stroke-width="1.4"/>
<line x1="473.67" y1="320.10" x2="473.67" y2="558.30" stroke="#EBEBEB" stroke-width="1.4"/>
<line x1="513.54" y1="320.10" x2="513.54" y2="558.30" stroke="#EBEBEB" stroke-width="1.4"/>
<line x1="553.41" y1="320.10" x2="553.41" y2="558.30" stroke="#EBEBEB" stroke-width="1.4"/>
<line x1="593.28" y1="320.10" x2="593.28" y2="558.30" stroke="#EBEBEB" stroke-width="1.4"/>
<line x1="633.15" y1="320.10" x2="633.15" y2="558.30" stroke="#EBEBEB" stroke-width="1.4"/>
<line x1="422.60" y1="547.50" x2="664.30" y2="547.50" stroke="#EBEBEB" stroke-width="1.4"/>
<line x1="422.60" y1="511.35" x2="664.30" y2="511.35" stroke="#EBEBEB" stroke-width="1.4"/>
<line x1="422.60" y1="475.20" x2="664.30" y2="475.20" stroke="#EBEBEB" stroke-width="1.4"/>
<line x1="422.60" y1="439.05" x2="664.30" y2="439.05" stroke="#EBEBEB" stroke-width="1.4"/>
<line x1="422.60" y1="402.90" x2="664.30" y2="402.90" stroke="#EBEBEB" stroke-width="1.4"/>
<line x1="422.60" y1="366.75" x2="664.30" y2="366.75" stroke="#EBEBEB" stroke-width="1.4"/>
<line x1="422.60" y1="330.60" x2="664.30" y2="330.60" stroke="#EBEBEB" stroke-width="1.4"/>
<polyline points="461.71,547.31 465.70,547.15 469.68,546.87 473.67,546.44 477.66,545.79 481.64,544.88 485.63,543.67 489.62,542.16 493.61,540.39 497.59,538.45 501.58,536.47 505.57,534.63 509.55,533.08 513.54,531.99 517.53,531.45 521.51,531.48 525.50,532.06 529.49,533.10 533.48,534.47 537.46,536.05 541.45,537.71 545.44,539.32 549.42,540.82 553.41,542.14 557.40,543.27 561.38,544.20 565.37,544.94 569.36,545.51 573.35,545.94 577.33,546.24 581.32,546.45 585.31,546.59 589.29,546.68 593.28,546.73 597.27,546.76 601.25,546.77 605.24,546.77 609.23,546.77 613.22,546.77 617.20,546.77 621.19,546.78 625.18,546.79 629.16,546.80 633.15,546.82 637.14,546.85 641.12,546.88 645.11,546.91 649.10,546.94 653.09,546.98 657.07,547.02 661.06,547.06 665.05,547.10 669.03,547.14 673.02,547.18" fill="none" stroke="#000000" stroke-width="1.75" stroke-linejoin="round" stroke-linecap="butt"/>
<polyline points="461.71,545.35 465.70,543.49 469.68,540.38 473.67,535.46 477.66,528.12 481.64,517.77 485.63,504.03 489.62,486.87 493.61,466.74 497.59,444.68 501.58,422.25 505.57,401.33 509.55,383.88 513.54,371.55 517.53,365.46 521.51,365.97 525.50,372.72 529.49,384.74 533.48,400.62 537.46,418.84 541.45,437.90 545.44,456.58 549.42,473.95 553.41,489.40 557.40,502.66 561.38,513.65 565.37,522.49 569.36,529.42 573.35,534.69 577.33,538.62 581.32,541.47 585.31,543.49 589.29,544.88 593.28,545.83 597.27,546.46 601.25,546.86 605.24,547.12 609.23,547.27 613.22,547.37 617.20,547.43 621.19,547.46 625.18,547.48 629.16,547.49 633.15,547.49 637.14,547.50 641.12,547.50 645.11,547.50 649.10,547.50 653.09,547.50 657.07,547.50 661.06,547.50 665.05,547.50 669.03,547.50 673.02,547.50" fill="none" stroke="#E41A1C" stroke-width="1.75" stroke-linejoin="round" stroke-linecap="butt"/>
<polyline points="461.71,547.49 465.70,547.47 469.68,547.45 473.67,547.42 477.66,547.38 481.64,547.31 485.63,547.22 489.62,547.12 493.61,546.99 497.59,546.85 501.58,546.71 505.57,546.57 509.55,546.46 513.54,546.39 517.53,546.35 521.51,546.35 525.50,546.39 529.49,546.47 533.48,546.57 537.46,546.69 541.45,546.81 545.44,546.92 549.42,547.03 553.41,547.13 557.40,547.22 561.38,547.29 565.37,547.34 569.36,547.39 573.35,547.42 577.33,547.44 581.32,547.46 585.31,547.47 589.29,547.48 593.28,547.49 597.27,547.49 601.25,547.50 605.24,547.50 609.23,547.50 613.22,547.50 617.20,547.50 621.19,547.50 625.18,547.50 629.16,547.50 633.15,547.50 637.14,547.50 641.12,547.50 645.11,547.50 649.10,547.50 653.09,547.50 657.07,547.50 661.06,547.50 665.05,547.50 669.03,547.50 673.02,547.50" fill="none" stroke="#377EB8" stroke-width="1.75" stroke-linejoin="round" stroke-linecap="butt"/>
<polyline points="461.71,547.49 465.70,547.49 469.68,547.48 473.67,547.47 477.66,547.45 481.64,547.43 485.63,547.40 489.62,547.36 493.61,547.31 497.59,547.26 501.58,547.20 505.57,547.15 509.55,547.11 513.54,547.08 517.53,547.07 521.51,547.07 525.50,547.08 529.49,547.11 533.48,547.15 537.46,547.19 541.45,547.24 545.44,547.28 549.42,547.33 553.41,547.36 557.40,547.39 561.38,547.42 565.37,547.44 569.36,547.46 573.35,547.47 577.33,547.48 581.32,547.49 585.31,547.49 589.29,547.49 593.28,547.50 597.27,547.50 601.25,547.50 605.24,547.50 609.23,547.50 613.22,547.50 617.20,547.50 621.19,547.50 625.18,547.50 629.16,547.50 633.15,547.50 637.14,547.50 641.12,547.50 645.11,547.50 649.10,547.50 653.09,547.50 657.07,547.50 661.06,547.50 665.05,547.50 669.03,547.50 673.02,547.50" fill="none" stroke="#4DAF4A" stroke-width="1.75" stroke-linejoin="round" stroke-linecap="butt"/>
<polyline points="461.71,547.50 465.70,547.49 469.68,547.49 473.67,547.48 477.66,547.47 481.64,547.45 485.63,547.43 489.62,547.40 493.61,547.37 497.59,547.34 501.58,547.30 505.57,547.27 509.55,547.24 513.54,547.22 517.53,547.21 521.51,547.21 525.50,547.22 529.49,547.24 533.48,547.27 537.46,547.30 541.45,547.33 545.44,547.36 549.42,547.38 553.41,547.41 557.40,547.43 561.38,547.45 565.37,547.46 569.36,547.47 573.35,547.48 577.33,547.49 581.32,547.49 585.31,547.49 589.29,547.50 593.28,547.50 597.27,547.50 601.25,547.50 605.24,547.50 609.23,547.50 613.22,547.50 617.20,547.50 621.19,547.50 625.18,547.50 629.16,547.50 633.15,547.50 637.14,547.50 641.12,547.50 645.11,547.50 649.10,547.50 653.09,547.50 657.07,547.50 661.06,547.50 665.05,547.50 669.03,547.50 673.02,547.50" fill="none" stroke="#984EA3" stroke-width="1.75" stroke-linejoin="round" stroke-linecap="butt"/>
<polyline points="461.71,547.50 465.70,547.50 469.68,547.50 473.67,547.50 477.66,547.50 481.64,547.50 485.63,547.50 489.62,547.50 493.61,547.50 497.59,547.50 501.58,547.50 505.57,547.50 509.55,547.50 513.54,547.50 517.53,547.50 521.51,547.50 525.50,547.50 529.49,547.50 533.48,547.50 537.46,547.50 541.45,547.50 545.44,547.50 549.42,547.50 553.41,547.50 557.40,547.50 561.38,547.50 565.37,547.50 569.36,547.50 573.35,547.50 577.33,547.50 581.32,547.50 585.31,547.50 589.29,547.50 593.28,547.50 597.27,547.50 601.25,547.50 605.24,547.50 609.23,547.50 613.22,547.50 617.20,547.50 621.19,547.50 625.18,547.50 629.16,547.50 633.15,547.50 637.14,547.50 641.12,547.50 645.11,547.50 649.10,547.50 653.09,547.50 657.07,547.50 661.06,547.50 665.05,547.50 669.03,547.50 673.02,547.50" fill="none" stroke="#FF7F00" stroke-width="1.75" stroke-linejoin="round" stroke-linecap="butt"/>
<rect x="422.60" y="320.10" width="241.70" height="238.20" fill="none" stroke="#2E2E2E" stroke-width="1.8"/>
<text x="554.36" y="342.90" font-size="11" fill="#000" stroke="#000" stroke-width="0.28">k&#8722;mer</text>
<line x1="555.56" y1="356.70" x2="567.16" y2="356.70" stroke="#000000" stroke-width="1.6"/>
<text x="573.16" y="360.10" font-size="9.6" fill="#000" stroke="#000" stroke-width="0.15">pat.inherited&#8722;only</text>
<line x1="555.56" y1="370.35" x2="567.16" y2="370.35" stroke="#E41A1C" stroke-width="1.6"/>
<text x="573.16" y="373.75" font-size="9.6" fill="#000" stroke="#000" stroke-width="0.15">1</text>
<line x1="555.56" y1="384.00" x2="567.16" y2="384.00" stroke="#377EB8" stroke-width="1.6"/>
<text x="573.16" y="387.40" font-size="9.6" fill="#000" stroke="#000" stroke-width="0.15">2</text>
<line x1="555.56" y1="397.65" x2="567.16" y2="397.65" stroke="#4DAF4A" stroke-width="1.6"/>
<text x="573.16" y="401.05" font-size="9.6" fill="#000" stroke="#000" stroke-width="0.15">3</text>
<line x1="555.56" y1="411.30" x2="567.16" y2="411.30" stroke="#984EA3" stroke-width="1.6"/>
<text x="573.16" y="414.70" font-size="9.6" fill="#000" stroke="#000" stroke-width="0.15">4</text>
<line x1="555.56" y1="424.95" x2="567.16" y2="424.95" stroke="#FF7F00" stroke-width="1.6"/>
<text x="573.16" y="428.35" font-size="9.6" fill="#000" stroke="#000" stroke-width="0.15">&gt;4</text>
<text x="513.10" y="423.30" font-size="11" fill="#000" stroke="#000" stroke-width="0.28">TP</text>
<text x="587.30" y="508.00" font-size="11" fill="#000" stroke="#000" stroke-width="0.28">FN</text>
<line x1="581.05" y1="508.40" x2="549.09" y2="526.39" stroke="#7F7F7F" stroke-width="1.85"/>
<polygon points="540.90,531.00 547.56,521.63 552.37,530.17" fill="#7F7F7F"/>
<line x1="418.20" y1="547.50" x2="422.60" y2="547.50" stroke="#333333" stroke-width="1.3"/>
<line x1="418.20" y1="475.20" x2="422.60" y2="475.20" stroke="#333333" stroke-width="1.3"/>
<line x1="418.20" y1="402.90" x2="422.60" y2="402.90" stroke="#333333" stroke-width="1.3"/>
<line x1="418.20" y1="330.60" x2="422.60" y2="330.60" stroke="#333333" stroke-width="1.3"/>
<line x1="433.80" y1="558.30" x2="433.80" y2="562.90" stroke="#333333" stroke-width="1.3"/>
<line x1="513.54" y1="558.30" x2="513.54" y2="562.90" stroke="#333333" stroke-width="1.3"/>
<line x1="593.28" y1="558.30" x2="593.28" y2="562.90" stroke="#333333" stroke-width="1.3"/>
<text x="433.80" y="574.40" font-size="11" fill="#4D4D4D" text-anchor="middle" stroke="#4D4D4D" stroke-width="0.28">0</text>
<text x="513.54" y="574.40" font-size="11" fill="#4D4D4D" text-anchor="middle" stroke="#4D4D4D" stroke-width="0.28">20</text>
<text x="593.28" y="574.40" font-size="11" fill="#4D4D4D" text-anchor="middle" stroke="#4D4D4D" stroke-width="0.28">40</text>
<text x="415.00" y="551.50" font-size="11.3" fill="#4D4D4D" text-anchor="end" stroke="#4D4D4D" stroke-width="0.28">0</text>
<text x="414.95" y="475.60" font-size="8.2" fill="#4D4D4D" text-anchor="end" stroke="#4D4D4D" stroke-width="0.28">5</text>
<text x="410.85" y="480.80" font-size="11.3" fill="#4D4D4D" text-anchor="end" stroke="#4D4D4D" stroke-width="0.28">10</text>
<path d="M389.40,474.80L395.40,480.80M395.40,474.80L389.40,480.80" stroke="#4D4D4D" stroke-width="1.05"/>
<text x="387.65" y="480.80" font-size="11.3" fill="#4D4D4D" text-anchor="end" stroke="#4D4D4D" stroke-width="0.28">5.0</text>
<text x="414.95" y="403.30" font-size="8.2" fill="#4D4D4D" text-anchor="end" stroke="#4D4D4D" stroke-width="0.28">6</text>
<text x="410.85" y="408.50" font-size="11.3" fill="#4D4D4D" text-anchor="end" stroke="#4D4D4D" stroke-width="0.28">10</text>
<path d="M389.40,402.50L395.40,408.50M395.40,402.50L389.40,408.50" stroke="#4D4D4D" stroke-width="1.05"/>
<text x="387.65" y="408.50" font-size="11.3" fill="#4D4D4D" text-anchor="end" stroke="#4D4D4D" stroke-width="0.28">1.0</text>
<text x="414.95" y="331.00" font-size="8.2" fill="#4D4D4D" text-anchor="end" stroke="#4D4D4D" stroke-width="0.28">6</text>
<text x="410.85" y="336.20" font-size="11.3" fill="#4D4D4D" text-anchor="end" stroke="#4D4D4D" stroke-width="0.28">10</text>
<path d="M389.40,330.20L395.40,336.20M395.40,330.20L389.40,336.20" stroke="#4D4D4D" stroke-width="1.05"/>
<text x="387.65" y="336.20" font-size="11.3" fill="#4D4D4D" text-anchor="end" stroke="#4D4D4D" stroke-width="0.28">1.5</text>
<text x="543.70" y="589.70" font-size="11.15" font-weight="bold" text-anchor="middle" fill="#000" stroke="#000" stroke-width="0.25">kmer_multiplicity</text>
<text transform="translate(364.90,438.90) rotate(-90)" font-size="11" font-weight="bold" text-anchor="middle" fill="#000" stroke="#000" stroke-width="0.25">Count</text>
<text x="-1.6" y="12.55" font-size="16.6" font-weight="bold" fill="#000" stroke="#000" stroke-width="0.25">a</text>
<text x="-1.7" y="319.8" font-size="16.6" font-weight="bold" fill="#000" stroke="#000" stroke-width="0.25">b</text>
<text transform="translate(9.2,138.3) rotate(-90)" font-size="12.9" text-anchor="middle" fill="#000" stroke="#000" stroke-width="0.28">Maternal assembly</text>
<text transform="translate(9.2,439.7) rotate(-90)" font-size="12.9" text-anchor="middle" fill="#000" stroke="#000" stroke-width="0.28">Paternal assembly</text>
<line x1="34.2" y1="301.7" x2="685" y2="301.7" stroke="#8A8A8A" stroke-width="1.15"/>
</svg>
</body></html>
